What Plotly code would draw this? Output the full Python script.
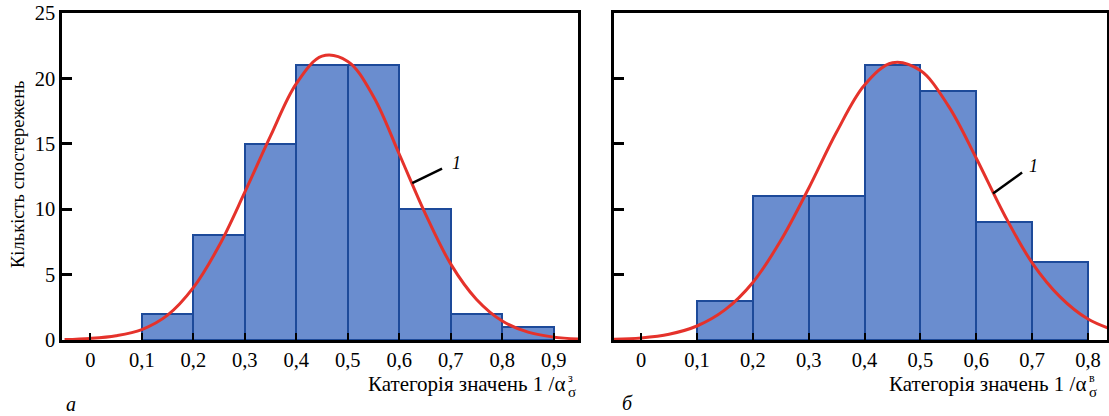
import plotly.graph_objects as go

# ---------------- data ----------------
# panel а
bin_left_a = [0.1, 0.2, 0.3, 0.4, 0.5, 0.6, 0.7, 0.8]
counts_a = [2, 8, 15, 21, 21, 10, 2, 1]
curve_x_a = [-0.05, 0.0, 0.05, 0.1, 0.15, 0.2, 0.25, 0.3, 0.35, 0.4, 0.45,
             0.5, 0.55, 0.6, 0.65, 0.7, 0.75, 0.8, 0.85, 0.9, 0.95]
curve_y_a = [0.03, 0.12, 0.33, 0.8, 1.9, 4.0, 7.2, 11.3, 15.6, 19.6, 21.7,
             21.3, 18.6, 14.2, 9.7, 5.8, 3.1, 1.45, 0.6, 0.22, 0.07]
ticks_a = [0, 0.1, 0.2, 0.3, 0.4, 0.5, 0.6, 0.7, 0.8, 0.9]
ticktext_a = ["0", "0,1", "0,2", "0,3", "0,4", "0,5", "0,6", "0,7", "0,8", "0,9"]

# panel б
bin_left_b = [0.1, 0.2, 0.3, 0.4, 0.5, 0.6, 0.7]
counts_b = [3, 11, 11, 21, 19, 9, 6]
curve_x_b = [-0.05, 0.0, 0.05, 0.1, 0.15, 0.2, 0.25, 0.3, 0.35, 0.4, 0.45,
             0.5, 0.55, 0.6, 0.65, 0.7, 0.75, 0.8, 0.85]
curve_y_b = [0.05, 0.16, 0.44, 1.07, 2.3, 4.4, 7.6, 11.6, 15.9, 19.5, 21.2,
             20.6, 17.9, 13.9, 9.6, 5.9, 3.3, 1.6, 0.7]
ticks_b = [0, 0.1, 0.2, 0.3, 0.4, 0.5, 0.6, 0.7, 0.8]
ticktext_b = ["0", "0,1", "0,2", "0,3", "0,4", "0,5", "0,6", "0,7", "0,8"]

y_ticks = [0, 5, 10, 15, 20, 25]
y_title = "Кількість спостережень"
x_title = "Категорія значень 1 /α"
sup_a, sup_b, sub_sym = "з", "в", "σ"
curve_label = "1"

BIN_W = 0.1
# ---------------- styles ----------------
BAR = "#6a8dcf"
EDGE = "#1d4a9a"
RED = "#e5322b"
SERIF = "Liberation Serif"

W, H = 1109, 416
def px(v, total):
    return v / total

fig = go.Figure()
for xl, cnt, cx, cy, xa, ya in [
    (bin_left_a, counts_a, curve_x_a, curve_y_a, "x", "y"),
    (bin_left_b, counts_b, curve_x_b, curve_y_b, "x2", "y2"),
]:
    fig.add_trace(go.Bar(
        x=[v + BIN_W / 2 for v in xl], y=cnt, width=BIN_W,
        marker=dict(color=BAR, line=dict(color=EDGE, width=2)),
        xaxis=xa, yaxis=ya, showlegend=False, hoverinfo="skip"))
    fig.add_trace(go.Scatter(
        x=cx, y=cy, mode="lines",
        line=dict(color=RED, width=3, shape="spline"),
        xaxis=xa, yaxis=ya, showlegend=False, hoverinfo="skip"))

ydom = [px(416 - 340, H), px(416 - 13, H)]
TICKFONT = dict(family=SERIF, size=20.5, color="black")
common_x = dict(ticks="inside", ticklen=7, tickwidth=2, tickcolor="black",
                showline=True, mirror=True, linewidth=2.5, linecolor="black",
                showgrid=False, zeroline=False, tickfont=TICKFONT, automargin=False)
common_y = dict(ticks="inside", ticklen=10, tickwidth=2.5, tickcolor="black",
                showline=True, mirror=True, linewidth=2.5, linecolor="black",
                showgrid=False, zeroline=False, range=[0, 25], tickvals=y_ticks,
                tickfont=TICKFONT, domain=ydom, automargin=False)

fig.update_layout(
    width=W, height=H, margin=dict(l=0, r=0, t=0, b=0, autoexpand=False),
    plot_bgcolor="white", paper_bgcolor="white", showlegend=False,
    bargap=0,
    xaxis=dict(domain=[px(62, W), px(578, W)], range=[-0.055, 0.947],
               tickvals=ticks_a, ticktext=ticktext_a, anchor="y", **common_x),
    yaxis=dict(anchor="x", **common_y),
    xaxis2=dict(domain=[px(614, W), px(1107, W)], range=[-0.0485, 0.834],
                tickvals=ticks_b, ticktext=ticktext_b, anchor="y2", **common_x),
    yaxis2=dict(anchor="x2", showticklabels=False, **common_y),
)

ann = []
# y title
ann.append(dict(text=y_title, textangle=-90, x=px(18, W), y=px(416 - 174, H),
                xref="paper", yref="paper", xanchor="center", yanchor="middle",
                showarrow=False, font=dict(family=SERIF, size=18.5, color="black")))
# x titles with stacked super/subscripts
for right_px, sup in [(567, sup_a), (1088, sup_b)]:
    ann.append(dict(text=x_title, x=px(right_px, W), y=px(416 - 384, H),
                    xref="paper", yref="paper", xanchor="right", yanchor="middle",
                    showarrow=False, font=dict(family=SERIF, size=21, color="black")))
    ann.append(dict(text=sup, x=px(right_px - 1, W), y=px(416 - 378, H),
                    xref="paper", yref="paper", xanchor="left", yanchor="middle",
                    showarrow=False, font=dict(family=SERIF, size=12, color="black")))
    ann.append(dict(text=sub_sym, x=px(right_px - 1, W), y=px(416 - 392, H),
                    xref="paper", yref="paper", xanchor="left", yanchor="middle",
                    showarrow=False, font=dict(family=SERIF, size=15, color="black")))
# panel letters
for lx, ly, t in [(71, 404, "а"), (627, 403, "б")]:
    ann.append(dict(text="<i>%s</i>" % t, x=px(lx, W), y=px(416 - ly, H),
                    xref="paper", yref="paper", xanchor="center", yanchor="middle",
                    showarrow=False, font=dict(family=SERIF, size=20, color="black")))
# curve labels and leader lines
shapes = []
for xr, yr, p0, p1, lab in [
    ("x", "y", (0.625, 12.0), (0.683, 13.1), (0.712, 13.5)),
    ("x2", "y2", (0.630, 11.2), (0.682, 12.8), (0.703, 13.3)),
]:
    shapes.append(dict(type="line", xref=xr, yref=yr, x0=p0[0], y0=p0[1],
                       x1=p1[0], y1=p1[1], line=dict(color="black", width=2.5)))
    ann.append(dict(text="<i>%s</i>" % curve_label, x=lab[0], y=lab[1],
                    xref=xr, yref=yr, xanchor="center", yanchor="middle",
                    showarrow=False, font=dict(family=SERIF, size=18, color="black")))

fig.update_layout(annotations=ann, shapes=shapes)
fig.write_html("out.html", config={"displayModeBar": False},
               post_script="document.body.style.margin='0';"
                           "document.body.style.overflow='hidden';")
